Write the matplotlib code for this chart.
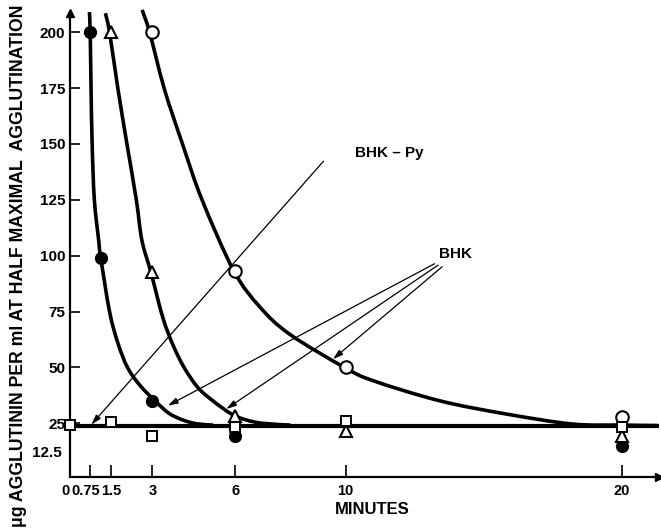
import matplotlib
matplotlib.use('Agg')
import numpy as np
import matplotlib.pyplot as plt
import matplotlib.transforms as mtransforms
from matplotlib import font_manager as fm
from matplotlib.path import Path
from matplotlib.patches import PathPatch

# ---------------- data ----------------
x_ticks = [0, 0.75, 1.5, 3, 6, 10, 20]
x_tick_labels = ['0', '0.75', '1.5', '3', '6', '10', '20']
y_ticks = [25, 50, 75, 100, 125, 150, 175, 200]
y_tick_labels = ['25', '50', '75', '100', '125', '150', '175', '200']
y_extra_tick = [12.5]
y_extra_label = ['12.5']

filled_x = [0.75, 1.15, 3, 6, 20]
filled_y = [200, 99, 35, 19.5, 15]
tri_x = [1.5, 3, 6, 10, 20]
tri_y = [200, 92.5, 28.4, 21.4, 19.5]
open_x = [3, 6, 10, 20]
open_y = [200, 93.2, 50, 27.7]
sq_x = [0, 1.5, 3, 6, 10, 20]
sq_y = [24.4, 25.8, 19.5, 23.2, 26.2, 23.2]

# hand-drawn fitted curves
curve_filled_x = [0.72, 0.75, 0.78, 0.82, 0.90, 1.06, 1.12, 1.45, 1.75, 2.10, 2.55, 3.10, 3.60, 4.10, 4.60, 5.20]
curve_filled_y = [209, 200, 175, 150, 125, 106.5, 100, 75, 61, 50, 42, 35, 29.5, 26.5, 24.8, 24.2]
curve_tri_x = [1.30, 1.45, 1.75, 2.08, 2.42, 2.62, 2.95, 3.38, 3.75, 4.15, 4.65, 5.20, 5.86, 6.40, 7.00, 8.00]
curve_tri_y = [208.5, 200, 175, 150, 125, 107, 92.5, 72.3, 60, 50, 41, 35, 29.2, 26.5, 25.0, 24.2]
curve_open_x = [2.63, 2.90, 3.44, 4.10, 4.80, 5.95, 6.90, 7.97, 9.96, 10.99, 13.4, 15.8, 18.2, 20.0, 21.3]
curve_open_y = [210, 200, 174.4, 149.7, 125, 93.2, 77, 64.9, 50, 44.1, 35.1, 29.2, 24.7, 24.2, 24.0]
baseline_level = 24.0

# annotation arrows
py_label = 'BHK – Py'
py_label_pos = (10.33, 145.8)
py_arrow_start = (9.2, 142.3)
py_arrow_end = (0.79, 24.4)
bhk_label = 'BHK'
bhk_label_pos = (13.4, 100.8)
bhk_arrow_starts = [(13.22, 96.4), (13.35, 95.8), (13.5, 95.1)]
bhk_arrow_ends = [(3.56, 32.9), (5.68, 31.4), (9.54, 53.7)]

x_label = 'MINUTES'
y_label = 'μg AGGLUTININ PER ml AT HALF MAXIMAL  AGGLUTINATION'

# ---------------- fonts ----------------
names = {f.name for f in fm.fontManager.ttflist}
main_font = 'Liberation Sans' if 'Liberation Sans' in names else 'DejaVu Sans'
narrow_font = 'Liberation Sans Narrow' if 'Liberation Sans Narrow' in names else main_font
plt.rcParams['font.family'] = [main_font, 'DejaVu Sans']
plt.rcParams['font.weight'] = 'bold'

# ---------------- figure ----------------
W, H = 661, 530
fig = plt.figure(figsize=(W / 100, H / 100), dpi=100)
ax = fig.add_axes([69.5 / W, 1 - 476.5 / H, (659 - 69.5) / W, (476.5 - 13) / H])
ax.set_xlim(0, 21.35)
ax.set_ylim(1.2, 208.6)

for s in ['top', 'right']:
    ax.spines[s].set_visible(False)
for s in ['left', 'bottom']:
    ax.spines[s].set_linewidth(1.6)
# axis arrowheads
ax.plot([0], [1], marker='^', ms=6, color='black', transform=ax.transAxes, clip_on=False, zorder=5)
ax.plot([1], [0], marker='>', ms=6, color='black', transform=ax.transAxes, clip_on=False, zorder=5)

ax.set_xticks(x_ticks)
ax.set_xticklabels(x_tick_labels)
ax.set_yticks(y_ticks)
ax.set_yticklabels(y_tick_labels)
ax.set_yticks(y_extra_tick, minor=True)
ax.set_yticklabels(y_extra_label, minor=True)
ax.tick_params(axis='x', direction='in', length=8.4, width=1.2, pad=5.5, labelsize=10.5)
ax.tick_params(axis='y', which='major', direction='in', length=7.2, width=1.2, pad=3, labelsize=11)
ax.tick_params(axis='y', which='minor', length=0, pad=5.5, labelsize=11)
for lab in ax.get_xticklabels() + ax.get_yticklabels() + ax.get_yticklabels(minor=True):
    lab.set_fontweight('bold')
# the crowded first labels sit a little left of their ticks in the reference
for idx, dx in [(0, -4), (1, -5)]:
    lbl = ax.get_xticklabels()[idx]
    lbl.set_transform(lbl.get_transform() + mtransforms.ScaledTranslation(dx / 100, 0, fig.dpi_scale_trans))


def smooth_path(xs, ys):
    """Smooth Bezier path through the read points (Catmull-Rom in display space)."""
    P = ax.transData.transform(np.column_stack([xs, ys]))
    verts = [P[0]]
    codes = [Path.MOVETO]
    n = len(P)
    for i in range(n - 1):
        p0 = P[i - 1] if i > 0 else P[i]
        p1 = P[i]
        p2 = P[i + 1]
        p3 = P[i + 2] if i + 2 < n else P[i + 1]
        c1 = p1 + (p2 - p0) / 6.0
        c2 = p2 - (p3 - p1) / 6.0
        verts += [c1, c2, p2]
        codes += [Path.CURVE4] * 3
    verts = ax.transData.inverted().transform(np.array(verts))
    return Path(verts, codes)


# curves
for cx, cy in [(curve_filled_x, curve_filled_y), (curve_tri_x, curve_tri_y), (curve_open_x, curve_open_y)]:
    patch = PathPatch(smooth_path(cx, cy), facecolor='none', edgecolor='black', lw=2.6,
                      capstyle='butt', joinstyle='round', clip_on=False, zorder=2)
    ax.add_patch(patch)
ax.axhline(baseline_level, color='black', lw=3.0, zorder=2)

# markers
ax.plot(filled_x, filled_y, 'o', ms=8.5, mfc='black', mec='black', zorder=4, clip_on=False)
ax.plot(tri_x, tri_y, '^', ms=9, mfc='white', mec='black', mew=1.5, zorder=4, clip_on=False)
ax.plot(open_x, open_y, 'o', ms=9, mfc='white', mec='black', mew=1.5, zorder=4, clip_on=False)
ax.plot(sq_x, sq_y, 's', ms=6.5, mfc='white', mec='black', mew=1.4, zorder=5, clip_on=False)

# annotations
arrow_kw = dict(arrowstyle='-|>,head_length=0.6,head_width=0.18', color='black', lw=0.9,
                shrinkA=0, shrinkB=0, mutation_scale=10)
ax.annotate('', xy=py_arrow_end, xytext=py_arrow_start, arrowprops=arrow_kw, zorder=3)
for st, en in zip(bhk_arrow_starts, bhk_arrow_ends):
    ax.annotate('', xy=en, xytext=st, arrowprops=arrow_kw, zorder=3)
ax.text(py_label_pos[0], py_label_pos[1], py_label, fontsize=11, fontweight='bold', ha='left', va='center')
ax.text(bhk_label_pos[0], bhk_label_pos[1], bhk_label, fontsize=11, fontweight='bold', ha='left', va='center')

# axis titles
fig.text(372 / W, 1 - 510 / H, x_label, fontsize=12, fontweight='bold', ha='center', va='center')
yl = fig.text(18.3 / W, 1 - 266 / H, y_label, rotation=90, fontsize=12, fontweight='bold',
              ha='center', va='center', family=[narrow_font, 'DejaVu Sans'])
fig.canvas.draw()
h = yl.get_window_extent().height
yl.set_fontsize(12 * 520 / h)

fig.savefig('out.png', dpi=100)
